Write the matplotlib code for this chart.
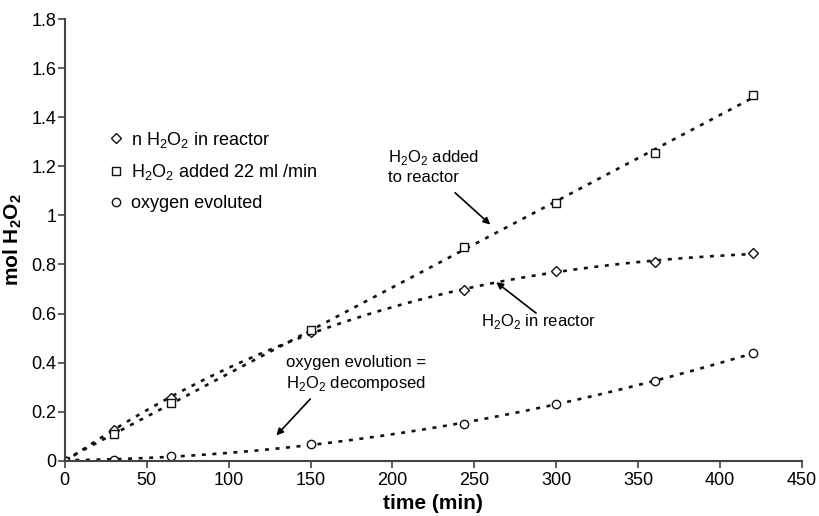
import matplotlib.pyplot as plt
import numpy as np

plt.rcParams['font.family'] = ['Liberation Sans', 'DejaVu Sans']
plt.rcParams['mathtext.fontset'] = 'custom'
plt.rcParams['mathtext.rm'] = 'Liberation Sans'
plt.rcParams['mathtext.bf'] = 'Liberation Sans:bold'

# time (min)
t = [0, 30, 65, 150, 244, 300, 360, 420]
# mol H2O2
n_reactor = [0, 0.125, 0.255, 0.525, 0.695, 0.775, 0.81, 0.845]
added = [0, 0.11, 0.235, 0.535, 0.87, 1.05, 1.255, 1.49]
oxygen = [0, 0.005, 0.02, 0.07, 0.15, 0.23, 0.325, 0.44]

labels = [r"n H$_2$O$_2$ in reactor", r"H$_2$O$_2$ added 22 ml /min", "oxygen evoluted"]

fig = plt.figure(figsize=(8.2, 5.16), dpi=100)
ax = fig.add_axes([0.079, 0.107, 0.899, 0.856])

col = '#111111'
mk = dict(color=col, markerfacecolor='white', markeredgewidth=1.0, markersize=6, linestyle='none')
ax.plot(t, n_reactor, marker='D', label=labels[0], **dict(mk, markersize=5))
ax.plot(t, added, marker='s', label=labels[1], **mk)
ax.plot(t, oxygen, marker='o', label=labels[2], **mk)

# excel-style trendlines
tt = np.linspace(0, 420, 200)
for ys, deg in [(n_reactor, 3), (added, 1), (oxygen, 2)]:
    p = np.polyfit(t, ys, deg)
    ax.plot(tt, np.polyval(p, tt), color=col, linestyle=(0, (1.5, 2.5)), linewidth=1.9, zorder=1)

ax.set_xlim(0, 450)
ax.set_ylim(0, 1.8)
ax.set_xticks(range(0, 451, 50))
ax.set_yticks(np.arange(0, 1.81, 0.2))
ax.set_yticklabels(['0', '0.2', '0.4', '0.6', '0.8', '1', '1.2', '1.4', '1.6', '1.8'])
for s in ['top', 'right']:
    ax.spines[s].set_visible(False)
for s in ['left', 'bottom']:
    ax.spines[s].set_color('#444444')
    ax.spines[s].set_linewidth(1.5)
ax.tick_params(labelsize=13, color='#444444', width=1.2, length=5)
ax.tick_params(axis='x', pad=3)
ax.tick_params(axis='y', pad=1)
ax.set_xlabel('time (min)', fontsize=15, fontweight='bold', labelpad=4)
ax.set_ylabel(r"mol H$_\mathbf{2}$O$_\mathbf{2}$", fontsize=15, fontweight='bold', labelpad=5)

ax.legend(loc='upper left', bbox_to_anchor=(0.05, 0.77), frameon=False, fontsize=13,
          handlelength=0.6, handletextpad=0.5, labelspacing=0.7, borderpad=0)

arw = dict(arrowstyle='-|>', color='black', lw=1.2, mutation_scale=10)
ax.text(197, 1.20, "H$_2$O$_2$ added\nto reactor", fontsize=12, va='center', linespacing=1.3)
ax.annotate('', xy=(261, 0.955), xytext=(237, 1.10), arrowprops=arw)
ax.text(254, 0.566, "H$_2$O$_2$ in reactor", fontsize=12, va='center')
ax.annotate('', xy=(262, 0.735), xytext=(289, 0.595), arrowprops=arw)
ax.text(135, 0.355, "oxygen evolution =\nH$_2$O$_2$ decomposed", fontsize=12, va='center', linespacing=1.3)
ax.annotate('', xy=(128, 0.095), xytext=(151, 0.26), arrowprops=arw)

fig.savefig('out.png', dpi=100)
